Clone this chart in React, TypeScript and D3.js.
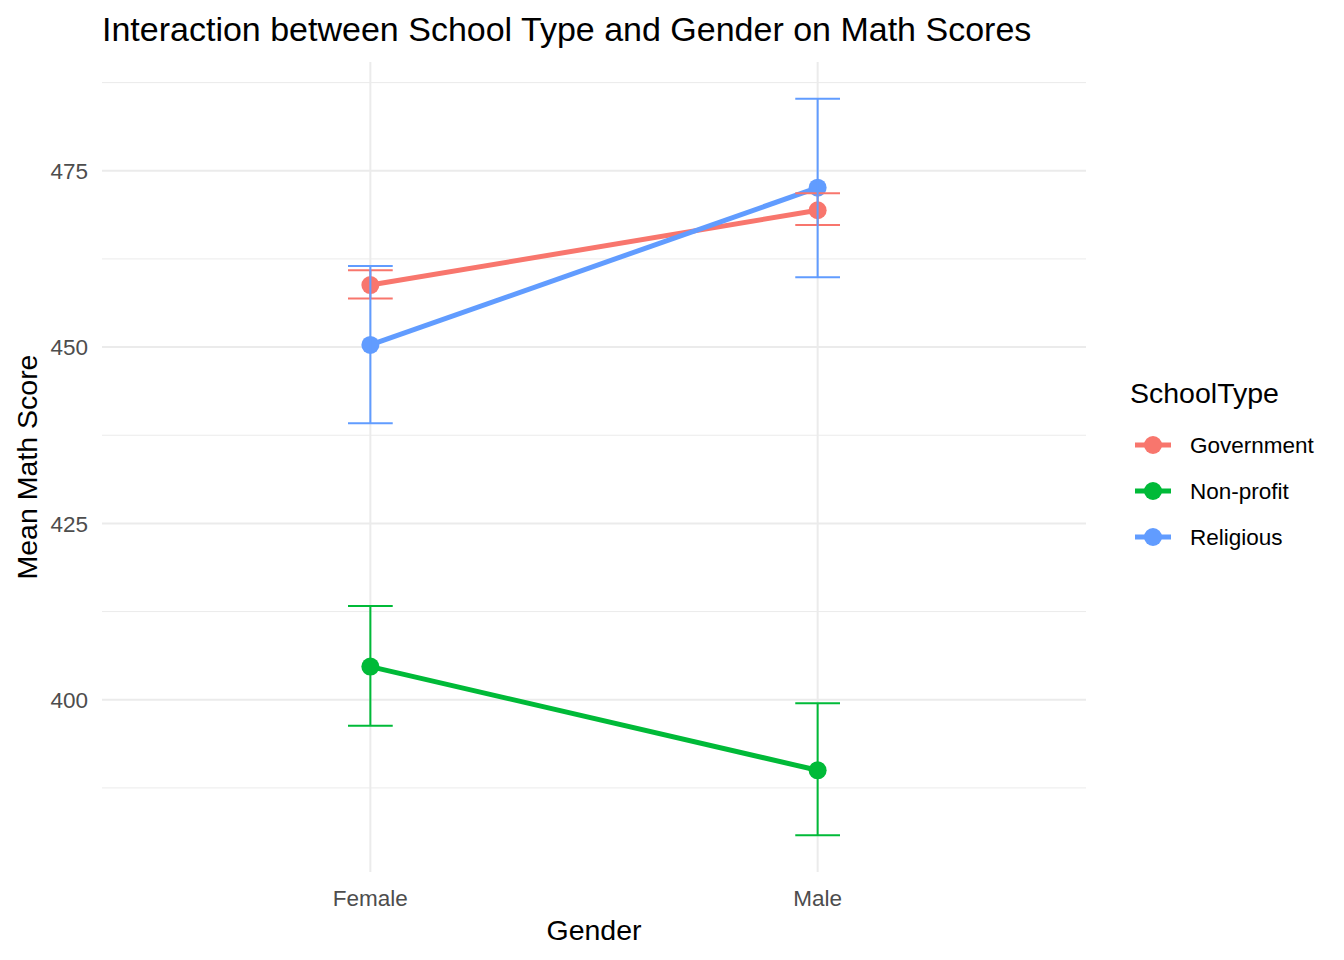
import React, { useEffect, useRef } from 'react';
import * as d3 from 'd3';

const genders = ['Female', 'Male'];
const schoolTypes = ['Government', 'Non-profit', 'Religious'];
const colors = ['#F8766D', '#00BA38', '#619CFF'];
// mean, lower, upper per gender (Female, Male)
const meanScores = [
  [458.8, 469.4],
  [404.7, 390.0],
  [450.3, 472.6],
];
const lowerScores = [
  [456.9, 467.3],
  [396.3, 380.8],
  [439.2, 459.9],
];
const upperScores = [
  [460.9, 471.8],
  [413.3, 399.5],
  [461.5, 485.2],
];
const yTicks = [400, 425, 450, 475];
const yMinor = [387.5, 412.5, 437.5, 462.5, 487.5];

const App = () => {
  const ref = useRef<SVGSVGElement | null>(null);

  useEffect(() => {
    const W = 1344, H = 960;
    const left = 102, right = 1086, top = 62, bottom = 872;
    const font = '"Liberation Sans", Arial, sans-serif';
    const svg = d3.select(ref.current);
    svg.selectAll('*').remove();
    svg.attr('width', W).attr('height', H).style('font-family', font);
    svg.append('rect').attr('width', W).attr('height', H).attr('fill', '#fff');

    const allVals = lowerScores.flat().concat(upperScores.flat());
    const lo = d3.min(allVals)!, hi = d3.max(allVals)!;
    const pad = (hi - lo) * 0.05;
    const y = d3.scaleLinear().domain([lo - pad, hi + pad]).range([bottom, top]);
    const x = d3.scaleLinear().domain([0.4, genders.length + 0.6]).range([left, right]);
    const xg = (i: number) => x(i + 1);

    const g = svg.append('g');
    // grid
    g.selectAll('.minor').data(yMinor).join('line')
      .attr('x1', left).attr('x2', right)
      .attr('y1', d => y(d)).attr('y2', d => y(d))
      .attr('stroke', '#EBEBEB').attr('stroke-width', 1);
    g.selectAll('.major').data(yTicks).join('line')
      .attr('x1', left).attr('x2', right)
      .attr('y1', d => y(d)).attr('y2', d => y(d))
      .attr('stroke', '#EBEBEB').attr('stroke-width', 2);
    g.selectAll('.vmajor').data(genders).join('line')
      .attr('x1', (_, i) => xg(i)).attr('x2', (_, i) => xg(i))
      .attr('y1', top).attr('y2', bottom)
      .attr('stroke', '#EBEBEB').attr('stroke-width', 2);

    // lines
    const line = d3.line<number>().x((_, i) => xg(i)).y(d => y(d));
    schoolTypes.forEach((_, s) => {
      g.append('path').attr('d', line(meanScores[s])!)
        .attr('fill', 'none').attr('stroke', colors[s]).attr('stroke-width', 5);
    });
    // points
    schoolTypes.forEach((_, s) => {
      g.selectAll(null).data(meanScores[s]).join('circle')
        .attr('cx', (_, i) => xg(i)).attr('cy', d => y(d)).attr('r', 9)
        .attr('fill', colors[s]);
    });
    // error bars
    const hw = (x(1.05) - x(1));
    schoolTypes.forEach((_, s) => {
      genders.forEach((_, i) => {
        const cx = xg(i);
        const y0 = y(lowerScores[s][i]), y1 = y(upperScores[s][i]);
        const eb = g.append('g').attr('stroke', colors[s]).attr('stroke-width', 2);
        eb.append('line').attr('x1', cx).attr('x2', cx).attr('y1', y0).attr('y2', y1);
        eb.append('line').attr('x1', cx - hw).attr('x2', cx + hw).attr('y1', y0).attr('y2', y0);
        eb.append('line').attr('x1', cx - hw).attr('x2', cx + hw).attr('y1', y1).attr('y2', y1);
      });
    });

    // tick labels
    svg.selectAll('.yt').data(yTicks).join('text')
      .attr('x', 88).attr('y', d => y(d)).attr('dy', '0.36em')
      .attr('text-anchor', 'end').attr('font-size', 22.5).attr('fill', '#4D4D4D')
      .text(d => d);
    svg.selectAll('.xt').data(genders).join('text')
      .attr('x', (_, i) => xg(i)).attr('y', 906)
      .attr('text-anchor', 'middle').attr('font-size', 22.5).attr('fill', '#4D4D4D')
      .text(d => d);

    // axis titles
    svg.append('text').attr('x', (left + right) / 2).attr('y', 940)
      .attr('text-anchor', 'middle').attr('font-size', 28.5).attr('fill', '#000')
      .text('Gender');
    svg.append('text').attr('transform', `translate(37,${(top + bottom) / 2}) rotate(-90)`)
      .attr('text-anchor', 'middle').attr('font-size', 28.5).attr('fill', '#000')
      .text('Mean Math Score');
    svg.append('text').attr('x', left).attr('y', 41)
      .attr('font-size', 34).attr('fill', '#000')
      .text('Interaction between School Type and Gender on Math Scores');

    // legend
    const lg = svg.append('g');
    lg.append('text').attr('x', 1130).attr('y', 403).attr('font-size', 28.5).text('SchoolType');
    schoolTypes.forEach((name, s) => {
      const cy = 445 + s * 46;
      lg.append('line').attr('x1', 1135).attr('x2', 1171).attr('y1', cy).attr('y2', cy)
        .attr('stroke', colors[s]).attr('stroke-width', 5);
      lg.append('circle').attr('cx', 1153).attr('cy', cy).attr('r', 9).attr('fill', colors[s]);
      lg.append('text').attr('x', 1190).attr('y', cy).attr('dy', '0.36em')
        .attr('font-size', 22.5).text(name);
    });
  }, []);

  return <svg ref={ref} style={{ display: 'block', position: 'absolute', left: 0, top: 0 }} />;
};

export default App;
